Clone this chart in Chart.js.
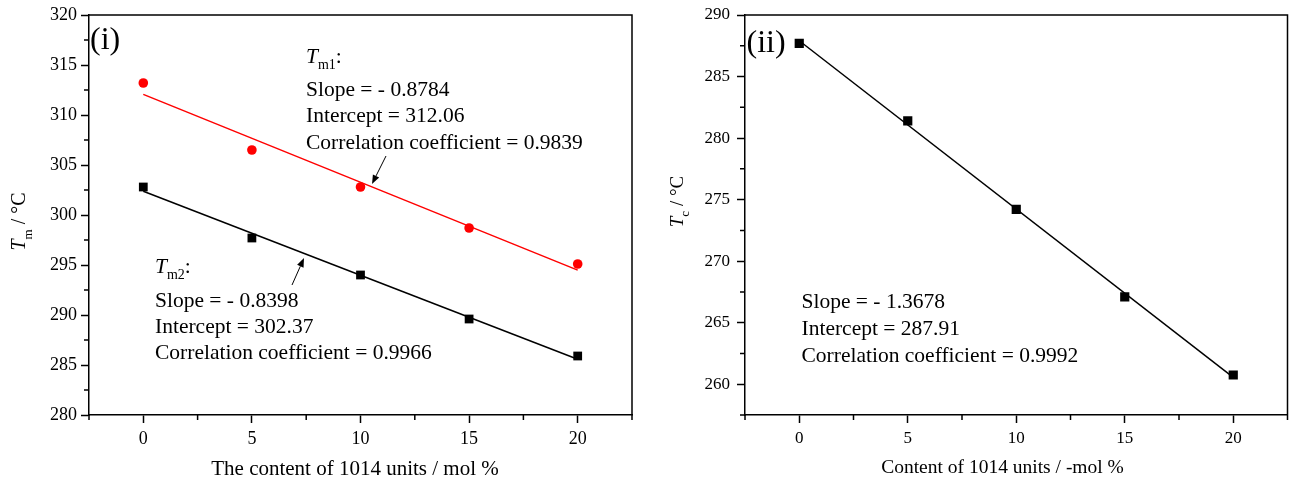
<!DOCTYPE html>
<html>
<head>
<meta charset="utf-8">
<script src="https://cdn.jsdelivr.net/npm/chart.js@4.4.1/dist/chart.umd.min.js"></script>
<style>
  html, body { margin: 0; padding: 0; background: #fff; }
  #wrap { position: relative; width: 1289px; height: 485px; overflow: hidden; background: #fff; }
  .box { position: absolute; top: 0; height: 485px; }
</style>
</head>
<body>
<div id="wrap">
  <div class="box" style="left:0;width:645px;"><canvas id="c1" width="645" height="485"></canvas></div>
  <div class="box" style="left:645px;width:649px;"><canvas id="c2" width="649" height="485"></canvas></div>
</div>
<script>
// ---------- data ----------
const content = [0, 5, 10, 15, 20];
const tm1 = [313.2, 306.5, 302.8, 298.7, 295.1];
const tm2 = [302.8, 297.7, 294.0, 289.6, 285.9];
const tc = [287.7, 281.4, 274.2, 267.1, 260.75];

const fitX = [0, 20];
const tm1Fit = [312.06, 294.49];
const tm2Fit = [302.37, 285.57];
const tcFit = [287.91, 260.55];

// ---------- ticks ----------
const xMajor = [0, 5, 10, 15, 20];
const xMinor = [-2.5, 2.5, 7.5, 12.5, 17.5, 22.5];
const leftYMajor = [280, 285, 290, 295, 300, 305, 310, 315, 320];
const leftYMinor = [282.5, 287.5, 292.5, 297.5, 302.5, 307.5, 312.5, 317.5];
const rightYMajor = [260, 265, 270, 275, 280, 285, 290];
const rightYMinor = [257.5, 262.5, 267.5, 272.5, 277.5, 282.5, 287.5];

// ---------- texts ----------
const leftXTitle = 'The content of 1014 units / mol %';
const rightXTitle = 'Content of 1014 units / -mol %';
const tm1Lines = ['Slope = - 0.8784', 'Intercept = 312.06', 'Correlation coefficient = 0.9839'];
const tm2Lines = ['Slope = - 0.8398', 'Intercept = 302.37', 'Correlation coefficient = 0.9966'];
const tcLines = ['Slope = - 1.3678', 'Intercept = 287.91', 'Correlation coefficient = 0.9992'];

const SERIF = '"Liberation Serif", "Times New Roman", serif';
const f = (size, italic) => (italic ? 'italic ' : '') + size + 'px ' + SERIF;

function toXY(xs, ys) { return xs.map((x, i) => ({ x: x, y: ys[i] })); }

function drawRich(ctx, segs, x, y, align) {
  let total = 0;
  segs.forEach(s => { ctx.font = s.font; s.w = ctx.measureText(s.t).width; total += s.w; });
  let cx = align === 'center' ? x - total / 2 : x;
  ctx.textBaseline = 'alphabetic';
  ctx.textAlign = 'left';
  segs.forEach(s => { ctx.font = s.font; ctx.fillText(s.t, cx, y + (s.dy || 0)); cx += s.w; });
}

function arrow(ctx, x1, y1, x2, y2) {
  ctx.save();
  ctx.strokeStyle = '#000'; ctx.fillStyle = '#000'; ctx.lineWidth = 1;
  const a = Math.atan2(y2 - y1, x2 - x1);
  const hl = 9, hw = 3.5;
  const bx = x2 - hl * Math.cos(a), by = y2 - hl * Math.sin(a);
  ctx.beginPath(); ctx.moveTo(x1, y1); ctx.lineTo(bx, by); ctx.stroke();
  ctx.beginPath();
  ctx.moveTo(x2, y2);
  ctx.lineTo(bx + hw * Math.sin(a), by - hw * Math.cos(a));
  ctx.lineTo(bx - hw * Math.sin(a), by + hw * Math.cos(a));
  ctx.closePath(); ctx.fill();
  ctx.restore();
}

function frameAndMinor(chart, yMinor) {
  const ctx = chart.ctx, ca = chart.chartArea;
  const xs = chart.scales.x, ys = chart.scales.y;
  ctx.save();
  ctx.strokeStyle = '#000';
  ctx.lineWidth = 1.5;
  ctx.beginPath();
  ctx.moveTo(ca.left, ca.top); ctx.lineTo(ca.right, ca.top); ctx.lineTo(ca.right, ca.bottom);
  ctx.stroke();
  ctx.beginPath();
  xMinor.forEach(v => { const p = xs.getPixelForValue(v); ctx.moveTo(p, ca.bottom); ctx.lineTo(p, ca.bottom + 5); });
  yMinor.forEach(v => { const p = ys.getPixelForValue(v); ctx.moveTo(ca.left - 5, p); ctx.lineTo(ca.left, p); });
  ctx.stroke();
  ctx.restore();
}

function makeScales(yMin, yMax, yMajor, yMinor, yWidth, tickSize, yPad) {
  const xt = xMajor.concat(xMinor).sort((a, b) => a - b);
  const yt = yMajor.concat(yMinor).sort((a, b) => a - b);
  return {
    x: {
      type: 'linear', min: -2.5, max: 22.5,
      afterBuildTicks: s => { s.ticks = xt.map(v => ({ value: v })); },
      afterFit: s => { s.height = 70; s.paddingLeft = 0; s.paddingRight = 0; s.paddingTop = 0; s.paddingBottom = 0; },
      ticks: {
        autoSkip: false, maxRotation: 0, color: '#000', padding: 5,
        font: { family: SERIF, size: tickSize },
        callback: v => xMajor.includes(v) ? String(v) : ''
      },
      grid: {
        display: true, drawOnChartArea: false, drawTicks: true, tickLength: 8, tickWidth: 1.5,
        tickColor: c => (c.tick && xMajor.includes(c.tick.value)) ? '#000' : 'rgba(0,0,0,0)'
      },
      border: { display: true, color: '#000', width: 1.5 }
    },
    y: {
      type: 'linear', min: yMin, max: yMax,
      afterBuildTicks: s => { s.ticks = yt.map(v => ({ value: v })); },
      afterFit: s => { s.width = yWidth; s.paddingLeft = 0; s.paddingRight = 0; s.paddingTop = 0; s.paddingBottom = 0; },
      ticks: {
        autoSkip: false, color: '#000', padding: yPad,
        font: { family: SERIF, size: tickSize },
        callback: v => yMajor.includes(v) ? String(v) : ''
      },
      grid: {
        display: true, drawOnChartArea: false, drawTicks: true, tickLength: 8, tickWidth: 1.5,
        tickColor: c => (c.tick && yMajor.includes(c.tick.value)) ? '#000' : 'rgba(0,0,0,0)'
      },
      border: { display: true, color: '#000', width: 1.5 }
    }
  };
}

const common = {
  responsive: false, animation: false, devicePixelRatio: 1,
  plugins: { legend: { display: false }, tooltip: { enabled: false } }
};

const ANN = 21.5;

// ---------- left chart ----------
const leftPlugin = {
  id: 'leftDeco',
  afterDraw(chart) {
    const ctx = chart.ctx;
    frameAndMinor(chart, leftYMinor);
    ctx.save();
    ctx.fillStyle = '#000';
    drawRich(ctx, [{ t: '(i)', font: f(32) }], 90, 49);
    // Tm1 block
    drawRich(ctx, [{ t: 'T', font: f(ANN, true) }, { t: 'm1', font: f(14), dy: 6 }, { t: ':', font: f(ANN) }], 306, 63);
    [96, 122, 149].forEach((y, i) => drawRich(ctx, [{ t: tm1Lines[i], font: f(ANN) }], 306, y));
    // Tm2 block
    drawRich(ctx, [{ t: 'T', font: f(ANN, true) }, { t: 'm2', font: f(14), dy: 6 }, { t: ':', font: f(ANN) }], 155, 273);
    [306.5, 332.5, 359].forEach((y, i) => drawRich(ctx, [{ t: tm2Lines[i], font: f(ANN) }], 155, y));
    // axis titles
    drawRich(ctx, [{ t: leftXTitle, font: f(21) }], 355, 475, 'center');
    ctx.save();
    ctx.translate(25, 221.5);
    ctx.rotate(-Math.PI / 2);
    drawRich(ctx, [{ t: 'T', font: f(20, true) }, { t: 'm', font: f(13), dy: 7 }, { t: ' / °C', font: f(20) }], 0, 0, 'center');
    ctx.restore();
    ctx.restore();
    arrow(ctx, 386, 156, 372, 184);
    arrow(ctx, 292, 285, 304, 258);
  }
};

new Chart(document.getElementById('c1'), {
  type: 'scatter',
  data: {
    datasets: [
      { data: toXY(content, tm1), pointStyle: 'circle', pointRadius: 4.8, backgroundColor: '#ff0000', borderColor: '#ff0000', borderWidth: 0, showLine: false },
      { data: toXY(content, tm2), pointStyle: 'rect', pointRadius: 6.2, backgroundColor: '#000', borderColor: '#000', borderWidth: 0, showLine: false },
      { data: toXY(fitX, tm1Fit), showLine: true, pointRadius: 0, borderColor: '#ff0000', borderWidth: 1.5, fill: false },
      { data: toXY(fitX, tm2Fit), showLine: true, pointRadius: 0, borderColor: '#000', borderWidth: 1.5, fill: false }
    ]
  },
  options: Object.assign({}, common, {
    layout: { padding: { top: 15, right: 13, left: 0, bottom: 0 } },
    scales: makeScales(280, 320, leftYMajor, leftYMinor, 89, 18, 4)
  }),
  plugins: [leftPlugin]
});

// ---------- right chart ----------
const rightPlugin = {
  id: 'rightDeco',
  afterDraw(chart) {
    const ctx = chart.ctx;
    frameAndMinor(chart, rightYMinor);
    ctx.save();
    ctx.fillStyle = '#000';
    drawRich(ctx, [{ t: '(ii)', font: f(32) }], 101.5, 52);
    [307.5, 334.5, 361.5].forEach((y, i) => drawRich(ctx, [{ t: tcLines[i], font: f(ANN) }], 156.5, y));
    drawRich(ctx, [{ t: rightXTitle, font: f(19.5) }], 357.5, 473, 'center');
    ctx.save();
    ctx.translate(38, 201.5);
    ctx.rotate(-Math.PI / 2);
    drawRich(ctx, [{ t: 'T', font: f(19, true) }, { t: 'c', font: f(13), dy: 6 }, { t: ' / °C', font: f(19) }], 0, 0, 'center');
    ctx.restore();
    ctx.restore();
  }
};

new Chart(document.getElementById('c2'), {
  type: 'scatter',
  data: {
    datasets: [
      { data: toXY(content, tc), pointStyle: 'rect', pointRadius: 6.5, backgroundColor: '#000', borderColor: '#000', borderWidth: 0, showLine: false },
      { data: toXY(fitX, tcFit), showLine: true, pointRadius: 0, borderColor: '#000', borderWidth: 1.5, fill: false }
    ]
  },
  options: Object.assign({}, common, {
    layout: { padding: { top: 15, right: 2, left: 0, bottom: 0 } },
    scales: makeScales(257.5, 290, rightYMajor, rightYMinor, 100, 17, 7)
  }),
  plugins: [rightPlugin]
});
</script>
</body>
</html>
